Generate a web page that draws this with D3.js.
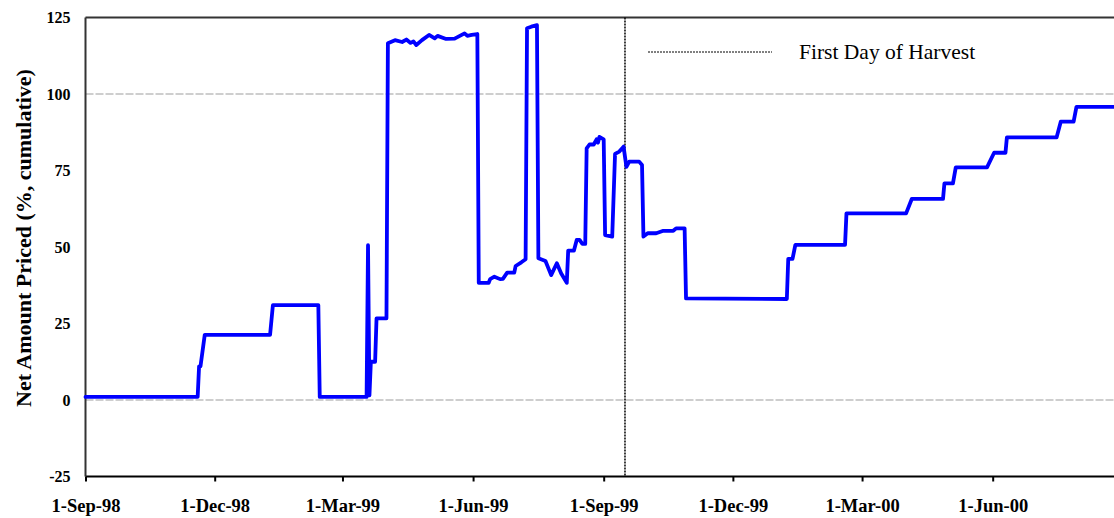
<!DOCTYPE html>
<html lang="en">
  <head>
    <meta charset="utf-8">
    <title>Net Amount Priced</title>
    <style>
        body { margin: 0; background: #fff; }
        svg { display: block; }
    </style>
    <script src="https://d3js.org/d3.v7.min.js"></script>
  </head>
  <body>
    <script>
    // data
    const dates = ["1-Sep-98","19-Nov-98","20-Nov-98","21-Nov-98","24-Nov-98","9-Jan-99","11-Jan-99","12-Feb-99","13-Feb-99",
        "18-Mar-99","19-Mar-99","20-Mar-99","21-Mar-99","24-Mar-99","25-Mar-99","1-Apr-99","2-Apr-99","7-Apr-99","12-Apr-99",
        "15-Apr-99","18-Apr-99","20-Apr-99","22-Apr-99","26-Apr-99","1-May-99","5-May-99","7-May-99","13-May-99","19-May-99",
        "26-May-99","28-May-99","31-May-99","4-Jun-99","5-Jun-99","12-Jun-99","13-Jun-99","16-Jun-99","20-Jun-99","22-Jun-99",
        "25-Jun-99","30-Jun-99","1-Jul-99","5-Jul-99","8-Jul-99","9-Jul-99","12-Jul-99","16-Jul-99","17-Jul-99","22-Jul-99",
        "26-Jul-99","30-Jul-99","2-Aug-99","6-Aug-99","7-Aug-99","11-Aug-99","13-Aug-99","15-Aug-99","17-Aug-99","19-Aug-99",
        "20-Aug-99","22-Aug-99","25-Aug-99","27-Aug-99","28-Aug-99","29-Aug-99","1-Sep-99","2-Sep-99","7-Sep-99","9-Sep-99",
        "12-Sep-99","15-Sep-99","17-Sep-99","19-Sep-99","26-Sep-99","28-Sep-99","29-Sep-99","2-Oct-99","8-Oct-99","13-Oct-99",
        "20-Oct-99","22-Oct-99","28-Oct-99","29-Oct-99","8-Jan-00","9-Jan-00","12-Jan-00","14-Jan-00","18-Feb-00","19-Feb-00",
        "1-Apr-00","5-Apr-00","27-Apr-00","28-Apr-00","4-May-00","6-May-00","28-May-00","2-Jun-00","10-Jun-00","11-Jun-00",
        "16-Jul-00","19-Jul-00","28-Jul-00","30-Jul-00","31-Aug-00"];

    const priced = [1,1,11,11,21.3,21.3,31,31,1,
        1,50.6,1.5,12.5,12.5,26.7,26.7,116.6,117.6,117,
        117.8,116.7,117.2,116,117.6,119.3,118.2,119,118,118.1,
        119.8,119,119.3,119.6,38.3,38.3,39.5,40.3,39.5,39.6,
        41.6,41.6,43.8,45,46,121.5,122,122.5,46.3,45.4,
        40.8,44.7,41.4,38.3,48.8,48.8,52.3,52.3,51,51,
        82.2,83.5,83.5,85.2,84.1,86,85.2,53.9,53.4,80.4,
        81.2,82.8,76.2,77.9,77.9,76.8,53.4,54.5,54.5,55.3,
        55.3,56.1,56.1,33.2,33,46.1,46.1,50.7,50.7,61,
        61,65.7,65.7,70.8,70.8,76,76,80.8,80.8,85.8,
        85.8,91,91,95.8,95.8];

    const xTicks = ["1-Sep-98","1-Dec-98","1-Mar-99","1-Jun-99","1-Sep-99","1-Dec-99","1-Mar-00","1-Jun-00"];
    const yTicks = [-25,0,25,50,75,100,125];
    const gridValues = [0,100];
    const harvestDate = "16-Sep-99";
    const xDomain = ["1-Sep-98","1-Sep-00"];

    const width = 1114, height = 518;
    const margin = { top: 17.5, left: 85.5, bottom: 41.5 };
    const plotRight = 1123.3;
    const serif = "'Liberation Serif', 'Times New Roman', serif";

    const parseDate = d3.timeParse("%d-%b-%y");
    const fmt = d3.timeFormat("%-d-%b-%y");
    const data = dates.map((d,i) => ({date: parseDate(d), value: priced[i]}));

    const svg = d3.select("body")
        .append("svg")
        .attr("width",width)
        .attr("height",height)
        .style("background-color","#fff");

    const x = d3.scaleTime()
        .domain(xDomain.map(parseDate))
        .range([margin.left, plotRight]);

    const y = d3.scaleLinear()
        .domain([-25,125])
        .range([height-margin.bottom, margin.top]);

    // gridlines
    svg.append("g")
        .selectAll("line")
        .data(gridValues)
        .join("line")
        .attr("x1",margin.left)
        .attr("x2",plotRight)
        .attr("y1",d=>y(d))
        .attr("y2",d=>y(d))
        .attr("stroke","#bfbfbf")
        .attr("stroke-width",1.5)
        .attr("stroke-dasharray","8,2");

    // plot frame top
    svg.append("line")
        .attr("x1",margin.left).attr("x2",plotRight)
        .attr("y1",y(125)).attr("y2",y(125))
        .attr("stroke","#333").attr("stroke-width",2);

    // x axis
    svg.append("g")
        .attr("transform",`translate(0,${y(-25)})`)
        .call(d3.axisBottom(x).tickValues(xTicks.map(parseDate)).tickFormat(fmt).tickSize(5).tickPadding(17))
        .call(g => g.select(".domain").remove())
        .call(g => g.selectAll(".tick line").attr("stroke","#000").attr("stroke-width",2))
        .call(g => g.selectAll("text")
            .style("font-family",serif)
            .style("font-weight","bold")
            .style("font-size","18.5px")
            .attr("fill","#000"));

    svg.append("line")
        .attr("x1",margin.left).attr("x2",plotRight)
        .attr("y1",y(-25)).attr("y2",y(-25))
        .attr("stroke","#000").attr("stroke-width",2);

    // y axis
    svg.append("g")
        .attr("transform",`translate(${margin.left},0)`)
        .call(d3.axisLeft(y).tickValues(yTicks).tickFormat(d => String(d)).tickSize(0).tickPadding(15))
        .call(g => g.select(".domain").remove())
        .call(g => g.selectAll("text")
            .style("font-family",serif)
            .style("font-weight","bold")
            .style("font-size","16px")
            .attr("fill","#000"));

    svg.append("line")
        .attr("x1",margin.left).attr("x2",margin.left)
        .attr("y1",y(125)).attr("y2",y(-25))
        .attr("stroke","#333").attr("stroke-width",2);

    svg.append("text")
        .attr("transform",`translate(31,238) rotate(-90)`)
        .text("Net Amount Priced (%, cumulative)")
        .style("font-family",serif)
        .style("font-weight","bold")
        .style("font-size","22px")
        .style("text-anchor","middle");

    // harvest marker
    svg.append("line")
        .attr("x1",x(parseDate(harvestDate)))
        .attr("x2",x(parseDate(harvestDate)))
        .attr("y1",y(125))
        .attr("y2",y(-25))
        .attr("stroke","#000")
        .attr("stroke-width",1.5)
        .attr("stroke-dasharray","2,1");

    const line = d3.line()
        .x(d=>x(d.date))
        .y(d=>y(d.value));

    svg.append("path")
        .datum(data)
        .attr("fill","none")
        .attr("stroke","#0000ff")
        .attr("stroke-width",3.8)
        .attr("stroke-linejoin","round")
        .attr("stroke-linecap","round")
        .attr("d",line);

    // legend
    svg.append("line")
        .attr("x1",648).attr("x2",772)
        .attr("y1",52).attr("y2",52)
        .attr("stroke","#000")
        .attr("stroke-width",1)
        .attr("stroke-dasharray","2,1");

    svg.append("text")
        .attr("x",799)
        .attr("y",58.5)
        .text("First Day of Harvest")
        .style("font-family",serif)
        .style("font-size","21.5px")
        .attr("fill","#000");
    </script>
  </body>
</html>
